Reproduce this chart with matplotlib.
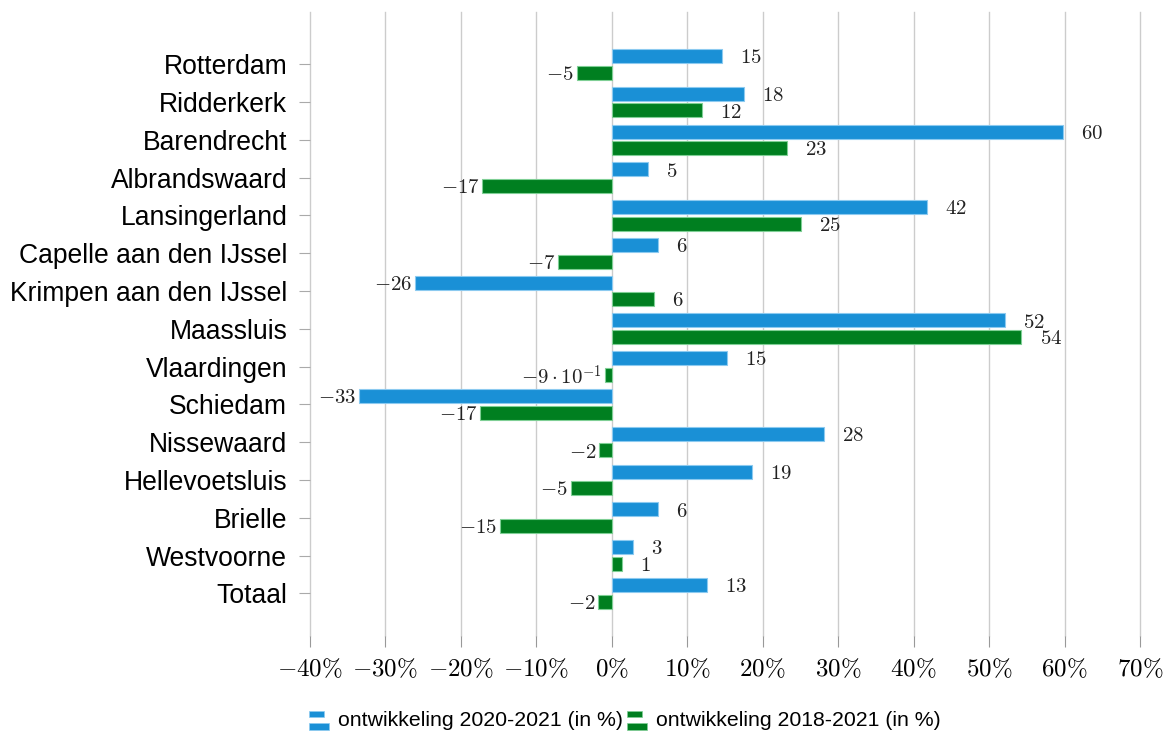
import matplotlib
matplotlib.use("Agg")
import matplotlib.pyplot as plt
import numpy as np
from matplotlib.patches import Rectangle
from matplotlib.legend_handler import HandlerBase

categories = ["Rotterdam", "Ridderkerk", "Barendrecht", "Albrandswaard", "Lansingerland",
              "Capelle aan den IJssel", "Krimpen aan den IJssel", "Maassluis", "Vlaardingen",
              "Schiedam", "Nissewaard", "Hellevoetsluis", "Brielle", "Westvoorne", "Totaal"]
dev_2020_2021 = [14.6, 17.6, 59.8, 4.8, 41.8, 6.2, -26.0, 52.1, 15.3, -33.4, 28.2, 18.6, 6.1, 2.9, 12.6]
dev_2018_2021 = [-4.6, 12.0, 23.3, -17.1, 25.1, -7.1, 5.6, 54.3, -0.9, -17.4, -1.6, -5.4, -14.8, 1.4, -1.8]
series_names = ["ontwikkeling 2020-2021 (in %)", "ontwikkeling 2018-2021 (in %)"]
xticks = [-40, -30, -20, -10, 0, 10, 20, 30, 40, 50, 60, 70]

blue = "#1a90d6"
green = "#007f20"
blue_edge = "#8ccaf0"
green_edge = "#7fcf95"

plt.rcParams["mathtext.fontset"] = "cm"
plt.rcParams["font.family"] = ["Liberation Sans", "DejaVu Sans"]

fig = plt.figure(figsize=(11.66, 7.34), dpi=100)
ax = fig.add_axes([309.5 / 1166, 1 - 636 / 734, (1140 - 309.5) / 1166, (636 - 12) / 734])

y = np.arange(len(categories))
h = 0.37
off = 0.22
ax.barh(y - off, dev_2020_2021, height=h, color=blue, edgecolor=blue_edge, linewidth=0.8, zorder=3)
ax.barh(y + off, dev_2018_2021, height=h, color=green, edgecolor=green_edge, linewidth=0.8, zorder=3)


def fmt(v):
    if abs(v) < 1:
        m = int(round(abs(v) * 10))
        s = r"-" if v < 0 else ""
        return r"$%s%d\cdot10^{-1}$" % (s, m)
    return r"$%d$" % int(round(v))


for vals, yy in ((dev_2020_2021, y - off), (dev_2018_2021, y + off)):
    for v, yc in zip(vals, yy):
        if v >= 0:
            ax.annotate(fmt(v), (v, yc), xytext=(13, -1.2), textcoords="offset points",
                        ha="left", va="center", fontsize=15, color="#222222", zorder=4)
        else:
            ax.annotate(fmt(v), (v, yc), xytext=(-2, -1.2), textcoords="offset points",
                        ha="right", va="center", fontsize=15, color="#222222", zorder=4)

ax.set_xlim(-40, 70)
ax.set_ylim(len(categories) - 1 + 1.13, -1.384)
ax.set_xticks(xticks)
ax.set_xticklabels([r"$%d\%%$" % t for t in xticks], fontsize=18)
ax.set_yticks(y)
ax.set_yticklabels(categories, fontsize=19.1)
ax.tick_params(axis="y", length=8, width=0.8, color="#aaaaaa", pad=8, direction="out")
ax.tick_params(axis="x", length=8, width=0.8, color="#999999", pad=7, direction="out")
for s in ax.spines.values():
    s.set_visible(False)
ax.grid(axis="x", color="#cccccc", linewidth=1.0, zorder=0)
ax.set_axisbelow(True)
for gl in ax.get_xgridlines():
    gl.set_clip_on(False)


class HandlerTwoBars(HandlerBase):
    def __init__(self, color, edge):
        super().__init__()
        self.color = color
        self.edge = edge

    def create_artists(self, legend, orig_handle, xdescent, ydescent, width, height, fontsize, trans):
        r1 = Rectangle((-xdescent, -ydescent + height * 0.62), width * 0.72, height * 0.45,
                       facecolor=self.color, edgecolor=self.edge, linewidth=0.5, transform=trans)
        r2 = Rectangle((-xdescent, -ydescent - height * 0.25), width, height * 0.5,
                       facecolor=self.color, edgecolor=self.edge, linewidth=0.5, transform=trans)
        return [r1, r2]


h1 = Rectangle((0, 0), 1, 1)
h2 = Rectangle((0, 0), 1, 1)
leg = fig.legend([h1, h2], series_names, loc="center", bbox_to_anchor=(0.536, 1 - 721 / 734),
                 ncol=2, frameon=False, fontsize=15.3, handlelength=0.95, handletextpad=0.4,
                 columnspacing=0.2,
                 handler_map={h1: HandlerTwoBars(blue, blue_edge), h2: HandlerTwoBars(green, green_edge)})

fig.savefig("out.png", dpi=100)
